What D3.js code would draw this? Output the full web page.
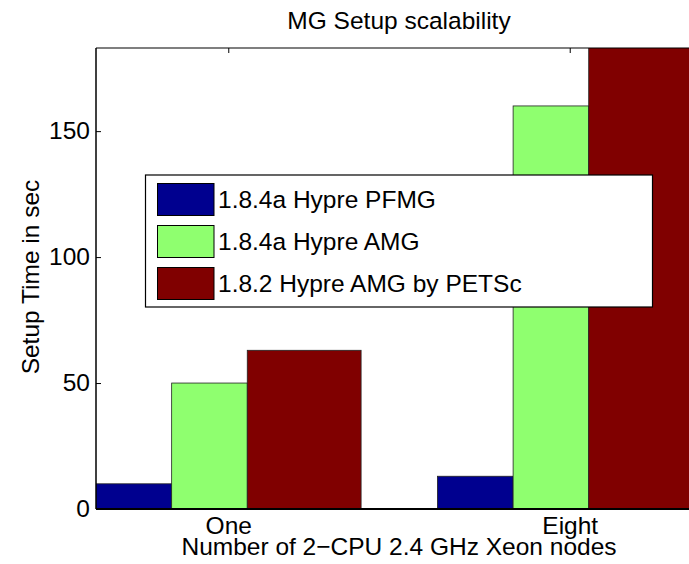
<!DOCTYPE html>
<html>
<head>
<meta charset="utf-8">
<script src="https://cdn.jsdelivr.net/npm/d3@7"></script>
<style>
  html, body { margin: 0; padding: 0; background: #fff; }
  text { font-family: "Liberation Sans", Arial, Helvetica, sans-serif; fill: #000; }
</style>
</head>
<body>
<svg id="chart" width="689" height="564"></svg>
<script>
// ---- data ----
const categories = ["One", "Eight"];
const seriesNames = ["1.8.4a Hypre PFMG", "1.8.4a Hypre AMG", "1.8.2 Hypre AMG by PETSc"];
const pfmgValues = [10, 13];
const amgValues = [50, 160];
const petscValues = [63, 200];
const yTicks = [0, 50, 100, 150];

const title = "MG Setup scalability";
const xLabel = "Number of 2\u2212CPU 2.4 GHz Xeon nodes";
const yLabel = "Setup Time in sec";

// ---- layout ----
const colors = ["#00008f", "#8fff6f", "#800000"];
const series = [pfmgValues, amgValues, petscValues];
// bar extents relative to group center (in x data units)
const barOffsets = [[-0.3875, -0.1658], [-0.1658, 0.0556], [0.0556, 0.389]];
const FS = 24.5;

const svg = d3.select("#chart");
const pL = 96, pR = 702, pT = 48, pB = 509;

const x = d3.scaleLinear().domain([0.6126, 2.3874]).range([pL, pR]);
const y = d3.scaleLinear().domain([0, 183]).range([pB, pT]);

svg.append("defs").append("clipPath").attr("id", "plotclip")
  .append("rect").attr("x", pL).attr("y", pT)
  .attr("width", pR - pL).attr("height", pB - pT);

const plot = svg.append("g").attr("clip-path", "url(#plotclip)");

series.forEach((vals, si) => {
  plot.selectAll(null).data(vals).enter().append("rect")
    .attr("x", (d, i) => x(i + 1 + barOffsets[si][0]))
    .attr("width", (d, i) => x(i + 1 + barOffsets[si][1]) - x(i + 1 + barOffsets[si][0]))
    .attr("y", d => y(d))
    .attr("height", d => y(0) - y(d))
    .attr("fill", colors[si])
    .attr("stroke", "#222")
    .attr("stroke-width", 0.8);
});

// axes box
svg.append("line").attr("x1", pL).attr("x2", pR).attr("y1", pT).attr("y2", pT)
  .attr("stroke", "#000").attr("stroke-width", 1.2);
svg.append("line").attr("x1", pL).attr("x2", pL).attr("y1", pT).attr("y2", pB)
  .attr("stroke", "#000").attr("stroke-width", 1.5);

// y axis (ticks inward)
const yAxis = d3.axisLeft(y).tickValues(yTicks).tickSize(-5).tickPadding(6);
const yg = svg.append("g").attr("transform", `translate(${pL},0)`).call(yAxis);
yg.select(".domain").remove();
yg.selectAll(".tick line").attr("stroke", "#000");
yg.selectAll(".tick text").attr("font-size", FS)
  .style("font-family", '"Liberation Sans", Arial, sans-serif');

// x axis bottom labels
const xAxis = d3.axisBottom(x).tickValues([1, 2]).tickFormat((d) => categories[d - 1])
  .tickSize(0).tickPadding(8);
const xg = svg.append("g").attr("transform", `translate(0,${pB})`).call(xAxis);
xg.select(".domain").remove();
xg.selectAll(".tick text").attr("font-size", FS)
  .style("font-family", '"Liberation Sans", Arial, sans-serif');

// top ticks inward
const xTop = d3.axisTop(x).tickValues([1, 2]).tickSize(-5).tickFormat("");
const xtg = svg.append("g").attr("transform", `translate(0,${pT})`).call(xTop);
xtg.select(".domain").remove();
xtg.selectAll(".tick line").attr("stroke", "#000");

// bottom axis line
svg.append("line").attr("x1", pL).attr("x2", pR).attr("y1", pB).attr("y2", pB)
  .attr("stroke", "#000").attr("stroke-width", 2);

// title & labels
svg.append("text").attr("x", (pL + pR) / 2).attr("y", 28.5)
  .attr("text-anchor", "middle").attr("font-size", FS).text(title);
svg.append("text").attr("x", (pL + pR) / 2).attr("y", 554.5)
  .attr("text-anchor", "middle").attr("font-size", FS).text(xLabel);
svg.append("text").attr("transform", "translate(39,277) rotate(-90)")
  .attr("text-anchor", "middle").attr("font-size", FS).text(yLabel);

// legend
const lg = svg.append("g");
lg.append("rect").attr("x", 145.5).attr("y", 175).attr("width", 507).attr("height", 132)
  .attr("fill", "#fff").attr("stroke", "#000").attr("stroke-width", 1.2);
seriesNames.forEach((name, i) => {
  const yy = 183.5 + i * 42;
  lg.append("rect").attr("x", 157.5).attr("y", yy).attr("width", 56.5).attr("height", 32)
    .attr("fill", colors[i]).attr("stroke", "#000").attr("stroke-width", 1);
  lg.append("text").attr("x", 218).attr("y", yy + 24).attr("font-size", FS).text(name);
});
</script>
</body>
</html>
